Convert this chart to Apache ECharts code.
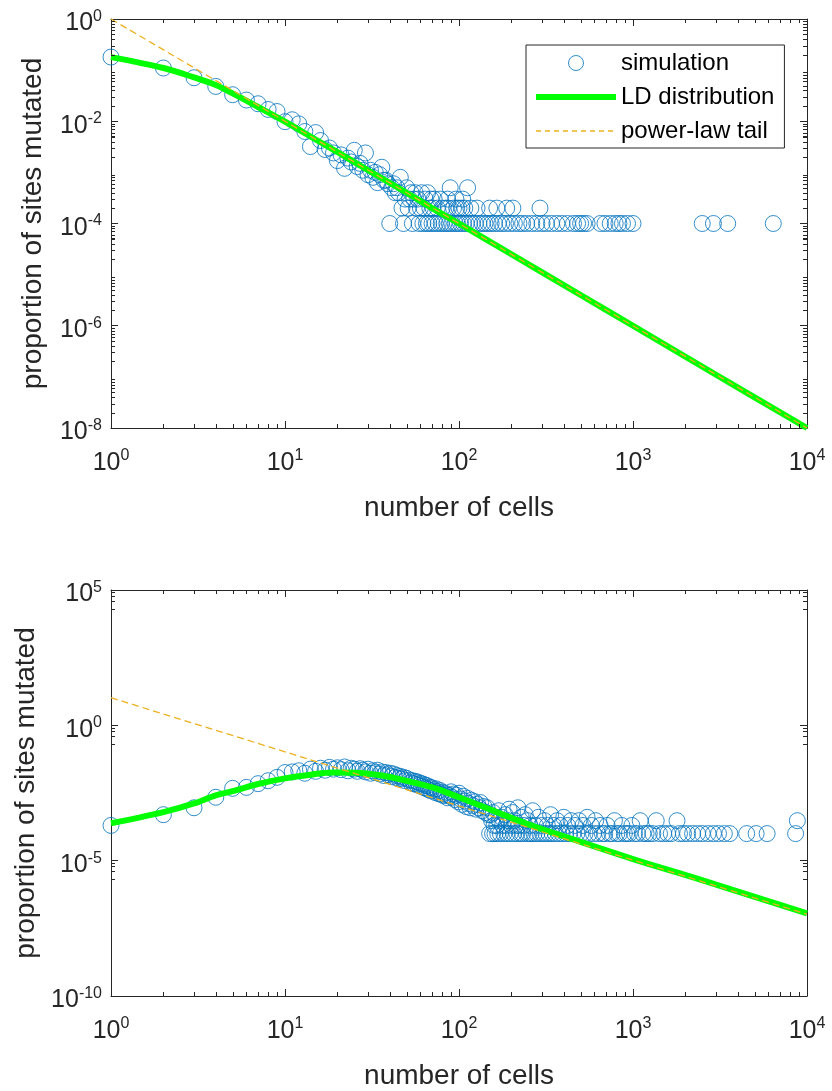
<!DOCTYPE html>
<html><head><meta charset="utf-8">
<script src="https://cdn.jsdelivr.net/npm/echarts@6/dist/echarts.min.js"></script>
<style>html,body{margin:0;padding:0;background:#fff}#c{width:832px;height:1091px}</style>
</head><body><div id="c"></div>
<script>
// ---------- data ----------
const xRange = [1, 10000];
const yRangeTop = [1e-8, 1];
const yRangeBottom = [1e-10, 1e5];
const xTitle = 'number of cells';
const yTitle = 'proportion of sites mutated';
const legendNames = ['simulation', 'LD distribution', 'power-law tail'];
const minorMantissas = [2, 3, 4, 5, 6, 7, 8, 9];   // log-axis minor tick positions within a decade

// top panel: simulation points [number of cells, proportion]
const simTop = [
 [1,0.18],[2,0.11],[3,0.071],[4,0.048],[5,0.033],[6,0.026],[7,0.022],[8,0.017],[9,0.0155],[10,0.0098],
 [11,0.0107],[12,0.0089],[13,0.0063],[14,0.0032],[15,0.006],[16,0.0042],[17,0.0028],[18,0.003],[19,0.0024],[20,0.0017],
 [21,0.0022],[22,0.0012],[23,0.0019],[24,0.0016],[25,0.0027],[26,0.0013],[27,0.0015],[28,0.0011],[29,0.0024],[30,0.0009],
 [31,0.0011],[32,0.0008],[33,0.001],[34,0.00063],[35,0.0009],[36,0.00126],[37,0.0007],[38,0.0007],[39,0.0006],[40,0.0001],
 [41,0.0005],[42,0.0006],[43,0.0004],[44,0.0005],[45,0.0004],[46,0.0008],[47,0.0002],[48,0.0001],[49,0.0003],[50,0.0005],
 [51,0.0002],[52,0.0003],[53,0.0004],[54,0.0001],[55,0.0003],[56,0.0004],[57,0.0002],[58,0.0003],[59,0.0001],[60,0.0002],
 [61,0.0004],[62,0.0001],[63,0.0002],[64,0.0003],[65,0.0001],[66,0.0004],[67,0.0001],[68,0.0002],[69,0.0003],[70,0.0001],
 [71,0.0002],[72,0.0003],[73,0.0001],[75,0.0002],[76,0.0001],[78,0.0003],[79,0.0001],[80,0.0002],[82,0.0001],[84,0.0002],
 [85,0.0001],[86,0.0003],[87,0.0002],[88,0.0001],[89,0.0005],[91,0.0001],[93,0.0002],[95,0.0001],[96,0.0003],[97,0.0002],
 [98,0.0001],[100,0.0002],[102,0.0001],[104,0.0002],[105,0.0003],[106,0.0001],[108,0.0002],[110,0.0001],[112,0.0005],[115,0.0001],
 [117,0.0002],[119,0.0001],[124,0.0001],[127,0.0002],[130,0.0001],[136,0.0001],[141,0.0001],[147,0.0001],[150,0.0002],[153,0.0001],
 [160,0.0001],[165,0.0002],[168,0.0001],[176,0.0001],[185,0.0001],[188,0.0002],[196,0.0001],[204,0.0002],[208,0.0001],[221,0.0001],
 [232,0.0001],[245,0.0001],[262,0.0001],[280,0.0001],[292,0.0002],[300,0.0001],[318,0.0001],[340,0.0001],[365,0.0001],[390,0.0001],
 [420,0.0001],[455,0.0001],[480,0.0001],[500,0.0001],[520,0.0001],[545,0.0001],[650,0.0001],[690,0.0001],[740,0.0001],[790,0.0001],
 [830,0.0001],[870,0.0001],[930,0.0001],[1000,0.0001],[2500,0.0001],[2900,0.0001],[3500,0.0001],[6400,0.0001]
];
const ldTop = [
 [1,0.18],[2,0.11],[3,0.072],[4,0.051],[5,0.035],[7,0.019],[10,0.0098],[15,0.0044],[20,0.0025],[30,0.0011],
 [50,0.0004],[70,0.0002],[100,0.0001],[200,2.5e-5],[500,4e-6],[1000,1e-6],[3000,1.1e-7],[10000,1e-8]
];
const tailTop = [[1,1],[10000,1e-8]];

// bottom panel
const simBottom = [
 [1,2.0e-4],[2,5e-4],[3,9e-4],[4,2.2e-3],[5,4.7e-3],[6,5.1e-3],[7,7e-3],[8,9e-3],[9,0.012],[10,0.018],
 [11,0.019],[12,0.021],[13,0.017],[14,0.024],[15,0.02],[16,0.026],[17,0.022],[18,0.028],[19,0.024],[20,0.027],
 [21,0.023],[22,0.029],[23,0.021],[24,0.026],[25,0.024],[26,0.02],[27,0.025],[28,0.022],[29,0.019],[30,0.024],
 [31,0.017],[32,0.021],[33,0.018],[34,0.022],[35,0.016],[36,0.019],[37,0.014],[38,0.018],[39,0.015],[40,0.017],
 [41,0.013],[42,0.016],[43,0.012],[44,0.014],[45,0.011],[46,0.013],[47,0.0105],[48,0.012],[49,0.009],[50,0.011],
 [52,0.0095],[53,0.0075],[54,0.009],[55,0.007],[56,0.0085],[57,0.0065],[58,0.008],[59,0.006],[60,0.0072],
 [61,0.0055],[62,0.0068],[63,0.005],[64,0.0062],[65,0.0046],[66,0.0058],[67,0.0042],[68,0.0052],[69,0.0038],[70,0.0049],
 [72,0.0041],[73,0.0033],[74,0.0045],[75,0.0036],[76,0.003],[78,0.0039],[79,0.0028],[80,0.0034],[82,0.0025],[83,0.0031],
 [85,0.0027],[86,0.0021],[88,0.0026],[90,0.0035],[91,0.0022],[93,0.0029],[95,0.0018],[97,0.0026],[99,0.0015],[100,0.0031],
 [102,0.0019],[104,0.0012],[106,0.0024],[108,0.0016],[110,0.001],[112,0.002],[114,0.0013],[116,0.0009],[118,0.0017],[120,0.0011],
 [123,0.0015],[125,0.0008],[128,0.0012],[130,0.0009],[133,0.0014],[136,0.0007],[139,0.001],[142,0.0006],[145,0.0009],[148,0.0005],
 [150,1e-4],[152,5e-4],[154,3e-4],[156,1e-4],[157,6e-4],[159,2e-4],[161,1e-4],[163,4e-4],[165,2e-4],[167,1e-4],
 [169,7e-4],[171,3e-4],[173,1e-4],[176,4e-4],[178,2e-4],[181,1e-4],[184,5e-4],[187,2e-4],[189,1e-4],[192,3e-4],
 [194,8e-4],[197,1e-4],[200,2e-4],[203,6e-4],[206,1e-4],[209,3e-4],[212,2e-4],[215,1e-4],[218,9e-4],[221,2e-4],
 [225,1e-4],[228,4e-4],[232,1e-4],[236,2e-4],[240,5e-4],[244,1e-4],[248,3e-4],[252,1e-4],[256,2e-4],[260,1e-4],
 [265,7e-4],[270,1e-4],[275,2e-4],[280,1e-4],[286,4e-4],[292,1e-4],[298,2e-4],
 [304,1e-4],[310,3e-4],[316,1e-4],[322,2e-4],[329,1e-4],[336,5e-4],[343,1e-4],[350,2e-4],[358,1e-4],[366,3e-4],
 [374,1e-4],[382,2e-4],[391,1e-4],[400,4e-4],[410,1e-4],[420,2e-4],[430,1e-4],[441,3e-4],[452,1e-4],[464,2e-4],
 [476,1e-4],[489,3e-4],[502,1e-4],[516,2e-4],[530,1e-4],[545,4e-4],[560,1e-4],[576,2e-4],[593,1e-4],[610,3e-4],
 [628,1e-4],[647,2e-4],[667,1e-4],[688,1e-4],[710,2e-4],[733,1e-4],[757,1e-4],[782,3e-4],[808,1e-4],[835,1e-4],
 [863,2e-4],[892,1e-4],[922,1e-4],[953,1e-4],[985,2e-4],
 [1020,1e-4],[1060,1e-4],[1100,3e-4],[1140,1e-4],[1190,1e-4],[1240,1e-4],[1300,1e-4],[1360,3e-4],[1420,1e-4],[1500,1e-4],
 [1580,1e-4],[1660,1e-4],[1790,3e-4],[1850,1e-4],[1950,1e-4],[2060,1e-4],[2200,1e-4],[2350,1e-4],[2500,1e-4],[2700,1e-4],
 [2900,1e-4],[3100,1e-4],[3350,1e-4],[3600,1e-4],[4500,1e-4],[5100,1e-4],[5900,1e-4],[8600,1e-4],[8800,3e-4]
];
const ldBottom = [
 [1,2.4e-4],[2,6.2e-4],[3,1.3e-3],[4,2.6e-3],[5,3.7e-3],[7,6.8e-3],[10,0.011],[14,0.015],[19,0.018],[25,0.0178],
 [36,0.0141],[50,0.0089],[71,0.005],[100,0.0022],[172,5.6e-4],[250,2.2e-4],[418,7.2e-5],[1000,1.15e-5],[2440,2.0e-6],[10000,1.12e-7]
];
const tailBottom = [[1,10.5],[10000,1.05e-7]];

// ---------- styling ----------
const FONT = 'Liberation Sans, Arial, Helvetica, sans-serif';
const AX = '#262626';
const BLUE = '#0072BD', GREEN = '#00FF00', ORANGE = '#EDB120';

function powLabel(v) {
  const e = Math.round(Math.log10(v));
  return '{b|10}{s|' + e + '}';
}
const rich = {
  b: { fontSize: 25, fontFamily: FONT, color: AX, lineHeight: 30 },
  s: { fontSize: 16, fontFamily: FONT, color: AX, lineHeight: 20, verticalAlign: 'top' }
};

function xAxes(gi) {
  const base = {
    type: 'log', logBase: 10, gridIndex: gi, min: xRange[0], max: xRange[1], interval: 1,
    axisLine: { show: true, lineStyle: { color: AX, width: 1 } },
    axisTick: { show: true, inside: true, length: 7, lineStyle: { color: AX } },
    splitLine: { show: false }, minorTick: { show: false }
  };
  return [
    Object.assign({}, base, {
      position: 'bottom',
      axisLabel: { formatter: powLabel, rich: rich, margin: 20 },
      name: xTitle, nameLocation: 'middle', nameGap: 66,
      nameTextStyle: { fontSize: 28, fontFamily: FONT, color: AX }
    }),
    Object.assign({}, base, { position: 'top', axisLabel: { show: false } })
  ];
}
function yAxes(gi, range, step, minorSplit) {
  const base = {
    type: 'log', logBase: 10, gridIndex: gi, min: range[0], max: range[1], interval: step,
    axisLine: { show: true, lineStyle: { color: AX, width: 1 } },
    axisTick: { show: true, inside: true, length: 7, lineStyle: { color: AX } },
    minorTick: { show: true, splitNumber: minorSplit, length: 4, lineStyle: { color: AX } },
    splitLine: { show: false }
  };
  return [
    Object.assign({}, base, {
      position: 'left',
      axisLabel: { formatter: powLabel, rich: rich, margin: 9, padding: [9, 0, 0, 0] },
      name: yTitle, nameLocation: 'middle', nameGap: 64, nameRotate: 90,
      nameTextStyle: { fontSize: 28, fontFamily: FONT, color: AX }
    }),
    Object.assign({}, base, { position: 'right', axisLabel: { show: false } })
  ];
}

function panelSeries(xi, yi, sim, ld, tail) {
  return [
    { name: legendNames[0], type: 'scatter', xAxisIndex: xi, yAxisIndex: yi, data: sim,
      symbol: 'circle', symbolSize: 16,
      itemStyle: { color: 'rgba(255,255,255,0)', borderColor: BLUE, borderWidth: 1 } },
    { name: legendNames[1], type: 'line', xAxisIndex: xi, yAxisIndex: yi, data: ld,
      symbol: 'none', smooth: 0.35, lineStyle: { color: GREEN, width: 6 }, itemStyle: { color: GREEN } },
    { name: legendNames[2], type: 'line', xAxisIndex: xi, yAxisIndex: yi, data: tail,
      symbol: 'none', lineStyle: { color: ORANGE, width: 1.3, type: [7, 4] }, itemStyle: { color: ORANGE } }
  ];
}

// small MATLAB-style log minor ticks (2..9 within each decade), drawn through the axes' own scales
function minorValues(lo, hi) {
  const out = [];
  for (let k = Math.round(Math.log10(lo)); k < Math.round(Math.log10(hi)); k++) {
    minorMantissas.forEach(m => out.push(m * Math.pow(10, k)));
  }
  return out;
}
function tickSeries(xi, yi, xr, yr, doY) {
  const xs = minorValues(xr[0], xr[1]).map(v => ['x', v]);
  const ys = doY ? minorValues(yr[0], yr[1]).map(v => ['y', v]) : [];
  const L = 4;
  return {
    type: 'custom', xAxisIndex: xi, yAxisIndex: yi, silent: true, clip: false, z: 5,
    data: xs.concat(ys).map(d => [d[0] === 'x' ? d[1] : xr[0], d[0] === 'y' ? d[1] : yr[0], d[0] === 'x' ? 0 : 1]),
    renderItem: function (params, api) {
      const kind = api.value(2);
      const st = { stroke: AX, lineWidth: 1 };
      if (kind === 0) {
        const v = api.value(0);
        const a = api.coord([v, yr[0]]), b = api.coord([v, yr[1]]);
        const x = Math.round(a[0]) + 0.5;
        return { type: 'group', children: [
          { type: 'line', shape: { x1: x, y1: a[1], x2: x, y2: a[1] - L }, style: st },
          { type: 'line', shape: { x1: x, y1: b[1], x2: x, y2: b[1] + L }, style: st }
        ] };
      } else {
        const v = api.value(1);
        const a = api.coord([xr[0], v]), b = api.coord([xr[1], v]);
        const y = Math.round(a[1]) + 0.5;
        return { type: 'group', children: [
          { type: 'line', shape: { x1: a[0], y1: y, x2: a[0] + L, y2: y }, style: st },
          { type: 'line', shape: { x1: b[0], y1: y, x2: b[0] - L, y2: y }, style: st }
        ] };
      }
    }
  };
}

const chart = echarts.init(document.getElementById('c'), null, { renderer: 'canvas' });
chart.setOption({
  animation: false,
  backgroundColor: '#fff',
  grid: [
    { left: 111, top: 19, width: 696, height: 409, containLabel: false },
    { left: 111, top: 590, width: 696, height: 406, containLabel: false }
  ],
  xAxis: [...xAxes(0), ...xAxes(1)],
  yAxis: [...yAxes(0, yRangeTop, 2, 2), ...yAxes(1, yRangeBottom, 5, 5)],
  legend: {
    data: [
      { name: legendNames[0], icon: 'circle', itemStyle: { color: 'rgba(255,255,255,0)', borderColor: BLUE, borderWidth: 1 } },
      { name: legendNames[1], itemStyle: { color: 'rgba(0,0,0,0)', borderColor: 'rgba(0,0,0,0)', borderWidth: 0, opacity: 0 },
        lineStyle: { color: GREEN, width: 6 } },
      { name: legendNames[2], itemStyle: { color: 'rgba(0,0,0,0)', borderColor: 'rgba(0,0,0,0)', borderWidth: 0, opacity: 0 },
        lineStyle: { color: ORANGE, width: 1.3, type: [5, 4] } }
    ],
    orient: 'vertical', left: 526, top: 45, itemWidth: 80, itemHeight: 15, itemGap: 10,
    padding: [6, 10, 5, 7], borderColor: AX, borderWidth: 1, backgroundColor: '#fff',
    selectedMode: false,
    textStyle: { fontSize: 24, fontFamily: FONT, color: '#000' }
  },
  series: [
    ...panelSeries(0, 0, simTop, ldTop, tailTop),
    ...panelSeries(2, 2, simBottom, ldBottom, tailBottom),
    tickSeries(0, 0, xRange, yRangeTop, true),
    tickSeries(2, 2, xRange, yRangeBottom, false)
  ]
});
</script></body></html>
